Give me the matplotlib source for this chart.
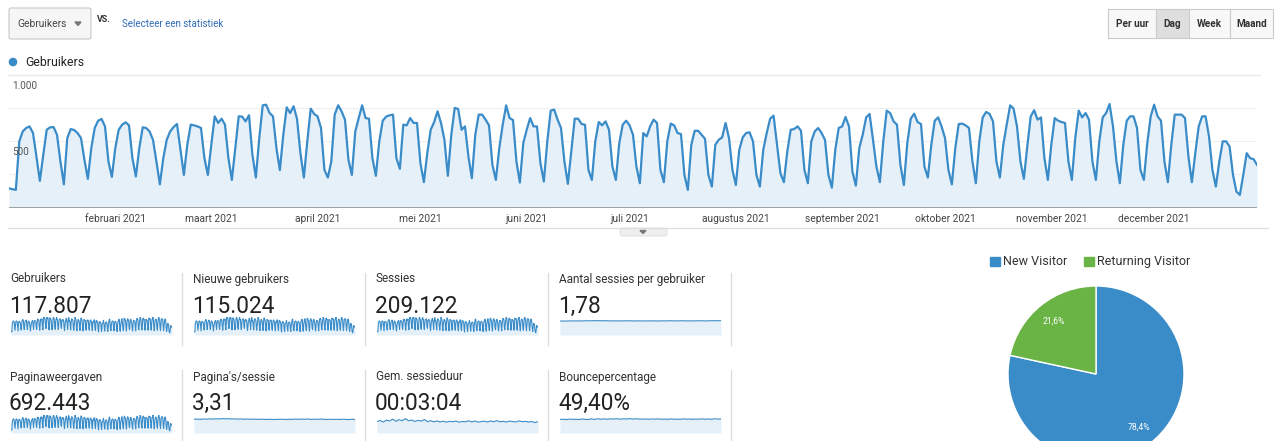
###########################################################################
### GA overzicht 2021 - gebruikers per dag + scorecards + bezoekers taart
###########################################################################

import numpy as np
import pandas as pd
import matplotlib as mpl
mpl.use('Agg')
from matplotlib import pyplot as plt
from matplotlib.patches import FancyBboxPatch, Rectangle, Circle, Polygon

plt.rcParams['font.family'] = ['Roboto', 'DejaVu Sans']

W, H = 1275, 441

### gebruikers per dag, vr 1 jan t/m vr 31 dec 2021 (rijen = weken ma..zo)
gebruikers_per_dag = [
    145, 138, 133,
    499, 574, 600, 612, 562, 385, 201,
    398, 587, 605, 607, 549, 347, 175,
    524, 592, 585, 562, 524, 360, 216,
    448, 600, 655, 668, 612, 347, 231,
    448, 587, 625, 643, 620, 372, 234,
    448, 605, 600, 574, 511, 347, 175,
    372, 511, 574, 607, 630, 436, 246,
    473, 625, 620, 612, 600, 372, 246,
    473, 688, 638, 670, 625, 372, 208,
    448, 688, 686, 650, 696, 398, 226,
    524, 771, 776, 713, 688, 448, 282,
    549, 756, 713, 764, 670, 410, 226,
    499, 746, 706, 688, 600, 284, 226,
    347, 701, 771, 726, 663, 360, 246,
    574, 675, 771, 675, 670, 372, 239,
    499, 655, 686, 696, 701, 372, 292,
    625, 620, 675, 638, 638, 335, 191,
    410, 587, 645, 726, 638, 511, 239,
    549, 751, 744, 587, 612, 385, 221,
    549, 701, 701, 663, 620, 322, 208,
    448, 625, 771, 675, 660, 347, 188,
    486, 587, 675, 612, 612, 335, 196,
    499, 731, 739, 663, 600, 347, 178,
    423, 670, 670, 630, 625, 284, 208,
    499, 645, 620, 650, 587, 309, 208,
    486, 625, 655, 620, 549, 309, 183,
    562, 537, 612, 663, 638, 284, 191,
    499, 633, 620, 562, 554, 246, 133,
    473, 579, 579, 549, 519, 246, 158,
    473, 511, 529, 638, 524, 284, 170,
    436, 529, 562, 567, 499, 246, 158,
    436, 562, 670, 693, 473, 259, 191,
    423, 587, 592, 612, 579, 284, 183,
    499, 574, 600, 562, 511, 246, 150,
    436, 600, 612, 683, 612, 271, 165,
    448, 549, 680, 706, 511, 309, 191,
    499, 731, 713, 650, 625, 322, 170,
    486, 670, 708, 645, 630, 309, 226,
    473, 655, 680, 612, 524, 284, 175,
    448, 630, 633, 620, 600, 347, 183,
    499, 680, 721, 706, 650, 347, 226,
    473, 625, 771, 746, 612, 347, 216,
    461, 688, 734, 663, 680, 372, 208,
    473, 675, 655, 645, 638, 347, 208,
    524, 731, 680, 713, 663, 347, 208,
    499, 680, 713, 781, 612, 347, 183,
    473, 655, 688, 688, 600, 284, 208,
    486, 688, 776, 688, 655, 347, 191,
    473, 701, 701, 701, 675, 385, 191,
    410, 612, 688, 688, 537, 284, 158,
    347, 499, 499, 461, 246, 120, 95,
    246, 410, 372, 365, 322,
]

maand_start = ['2021-02-01', '2021-03-01', '2021-04-01', '2021-05-01',
               '2021-06-01', '2021-07-01', '2021-08-01', '2021-09-01',
               '2021-10-01', '2021-11-01', '2021-12-01']
maand_labels = ['februari 2021', 'maart 2021', 'april 2021', 'mei 2021',
                'juni 2021', 'juli 2021', 'augustus 2021', 'september 2021',
                'oktober 2021', 'november 2021', 'december 2021']
y_ticks = [500, 1000]
y_ticklabels = ['500', '1.000']

### ratio-statistieken (ongeveer per week)
sessies_per_gebruiker = [1.74, 1.76, 1.75, 1.77, 1.76, 1.78, 1.77, 1.76, 1.79, 1.78,
                         1.80, 1.79, 1.81, 1.78, 1.80, 1.79, 1.77, 1.78, 1.76, 1.78,
                         1.77, 1.79, 1.78, 1.77, 1.76, 1.78, 1.77, 1.76, 1.77, 1.78,
                         1.77, 1.76, 1.78, 1.77, 1.78, 1.79, 1.78, 1.77, 1.78, 1.79,
                         1.77, 1.78, 1.77, 1.78, 1.79, 1.78, 1.77, 1.78, 1.79, 1.80,
                         1.78, 1.81]
paginas_per_sessie = [3.30, 3.36, 3.28, 3.38, 3.33, 3.41, 3.35, 3.44, 3.38, 3.47,
                      3.40, 3.45, 3.36, 3.42, 3.33, 3.39, 3.31, 3.37, 3.29, 3.35,
                      3.27, 3.33, 3.30, 3.26, 3.32, 3.24, 3.30, 3.27, 3.33, 3.25,
                      3.31, 3.28, 3.35, 3.29, 3.36, 3.30, 3.38, 3.27, 3.34, 3.29,
                      3.36, 3.31, 3.27, 3.33, 3.26, 3.31, 3.25, 3.32, 3.28, 3.22,
                      3.34, 3.24]
sessieduur_sec = [176, 192, 170, 198, 185, 214, 180, 205, 190, 222, 188, 200, 178,
                  196, 183, 208, 175, 190, 172, 186, 170, 182, 168, 180, 174, 185,
                  166, 178, 172, 188, 170, 184, 168, 176, 182, 170, 186, 174, 190,
                  172, 180, 168, 184, 176, 170, 186, 174, 180, 168, 178, 160, 176]
bouncepercentage = [48.6, 49.8, 48.2, 50.1, 48.9, 49.5, 48.4, 50.3, 49.1, 48.7,
                    50.6, 49.0, 51.2, 49.6, 50.8, 49.3, 51.0, 50.2, 51.5, 49.8,
                    50.9, 50.1, 51.8, 49.9, 51.1, 50.4, 49.6, 50.7, 49.2, 50.5,
                    49.8, 50.9, 49.4, 50.2, 49.0, 50.6, 49.5, 50.0, 49.1, 50.8,
                    49.7, 50.3, 49.2, 50.1, 49.6, 50.9, 49.4, 50.5, 49.0, 51.3,
                    49.8, 50.6]

kpi_titels = ['Gebruikers', 'Nieuwe gebruikers', 'Sessies',
              'Aantal sessies per gebruiker', 'Paginaweergaven',
              "Pagina's/sessie", 'Gem. sessieduur', 'Bouncepercentage']
kpi_waarden = ['117.807', '115.024', '209.122', '1,78',
               '692.443', '3,31', '00:03:04', '49,40%']
# tellers hebben op dit formaat dezelfde vorm als gebruikers per dag
kpi_reeksen = [gebruikers_per_dag, gebruikers_per_dag, gebruikers_per_dag,
               sessies_per_gebruiker, gebruikers_per_dag, paginas_per_sessie,
               sessieduur_sec, bouncepercentage]

bezoeker_labels = ['New Visitor', 'Returning Visitor']
bezoeker_aandeel = [78.4, 21.6]

knoppen = ['Per uur', 'Dag', 'Week', 'Maand']

### kleuren
BLAUW = '#3a8cc9'
VULLING = '#e6f0f8'
GROEN = '#6ab345'
GRIJS_TEKST = '#333333'


def px_axes(fig, x0, y0, x1, y1, **kw):
    # axes in pixel coords (top-left origin)
    return fig.add_axes([x0 / W, 1 - y1 / H, (x1 - x0) / W, (y1 - y0) / H], **kw)


fig = plt.figure(figsize=(W / 100, H / 100), dpi=100)
fig.patch.set_facecolor('white')

ov = fig.add_axes([0, 0, 1, 1], zorder=0)
ov.set_xlim(0, W)
ov.set_ylim(H, 0)
ov.axis('off')

########## kop: dropdown, vs., knoppen
ov.add_patch(FancyBboxPatch((9, 8), 82, 31, boxstyle='round,pad=0,rounding_size=2',
                            fc='#f6f6f6', ec='#c8c8c8', lw=0.8))
ov.text(17, 24, 'Gebruikers', fontsize=7.4, color='#444444', va='center')
ov.add_patch(Polygon([[75, 22], [81, 22], [78, 25.5]], closed=True, color='#777777'))
ov.text(97, 20, 'VS.', fontsize=6.4, fontweight='bold', color='#333333', va='center')
ov.text(122, 24, 'Selecteer een statistiek', fontsize=7, color='#2f6bb3', va='center')

grenzen = [1108, 1156, 1189, 1230, 1273]
for i, lab in enumerate(knoppen):
    fc = '#dedede' if lab == 'Dag' else '#f8f8f8'
    ov.add_patch(Rectangle((grenzen[i], 9), grenzen[i + 1] - grenzen[i], 29,
                           fc=fc, ec='#cccccc', lw=0.8))
    ov.text((grenzen[i] + grenzen[i + 1]) / 2, 24, lab, fontsize=7.2,
            fontweight='bold', color='#333333', ha='center', va='center')

########## legenda + lijnen
ov.add_patch(Circle((13, 62), 3.6, color=BLAUW))
ov.text(25, 62.5, 'Gebruikers', fontsize=8.8, color='#222222', va='center')
ov.plot([8, 1260], [75, 75], color='#e8e8e8', lw=0.9)
ov.plot([8, 1268], [228, 228], color='#dddddd', lw=0.9)
ov.add_patch(FancyBboxPatch((620, 228), 47, 8, boxstyle='round,pad=0,rounding_size=2',
                            fc='#eeeeee', ec='#dddddd', lw=0.6))
ov.add_patch(Polygon([[640, 230.5], [646, 230.5], [643, 233.5]], closed=True,
                     color='#777777'))

########## hoofdgrafiek
datums = pd.date_range('2021-01-01', periods=len(gebruikers_per_dag), freq='D')
ax = px_axes(fig, 9, 75, 1257, 207.5, zorder=2)
ax.set_facecolor('none')
ax.fill_between(datums, gebruikers_per_dag, 0, color=VULLING, lw=0)
ax.plot(datums, gebruikers_per_dag, color=BLAUW, lw=1.6, solid_joinstyle='round')
for g in [250, 500, 750]:
    ax.axhline(g, color='#eeeeee', lw=0.8, zorder=0)
ax.axhline(0, color='#a0a0a0', lw=1.4)
ax.set_ylim(0, 1000)
ax.set_xlim(datums[0], datums[-1])
ax.set_xticks(pd.to_datetime(maand_start))
ax.set_xticklabels(maand_labels, fontsize=7.4, color='#444444')
ax.tick_params(axis='x', length=0, pad=5)
ax.set_yticks([])
for s in ax.spines.values():
    s.set_visible(False)
for v, lab in zip(y_ticks, y_ticklabels):
    ax.annotate(lab, xy=(0, v), xycoords=('axes fraction', 'data'),
                xytext=(2, -8), textcoords='offset points', fontsize=7.2,
                color='#555555', va='center', ha='left', zorder=5)

########## scorecards
kol_x = [10, 193, 376, 559]
rij_y = [(279, 304, 317, 335), (377, 401, 415, 433)]
for k, (titel, waarde, reeks) in enumerate(zip(kpi_titels, kpi_waarden, kpi_reeksen)):
    r, c = divmod(k, 4)
    ty, ny, sy0, sy1 = rij_y[r]
    x0 = kol_x[c]
    ov.text(x0, ty, titel, fontsize=8.5, color=GRIJS_TEKST, va='center')
    ov.text(x0 - 1, ny, waarde, fontsize=16.3, color='#222222', va='center_baseline')
    sp = px_axes(fig, x0 + 1, sy0, x0 + 162, sy1, zorder=2)
    xs = np.arange(len(reeks))
    sp.fill_between(xs, reeks, 0, color=VULLING, lw=0)
    sp.plot(xs, reeks, color=BLAUW, lw=0.8)
    top = max(reeks) if reeks is gebruikers_per_dag else max(reeks) * 1.25
    sp.set_ylim(0, top)
    sp.set_xlim(0, len(reeks) - 1)
    sp.axis('off')

for x in [182, 365, 548, 731]:
    ov.plot([x, x], [273, 345], color='#dddddd', lw=1)
    ov.plot([x, x], [370, 441], color='#dddddd', lw=1)

########## bezoekers taart
kleuren = [BLAUW, GROEN]
ov.add_patch(Rectangle((990, 257), 10, 9, color=kleuren[0]))
ov.text(1003, 261.5, bezoeker_labels[0], fontsize=9, color=GRIJS_TEKST, va='center')
ov.add_patch(Rectangle((1084, 257), 10, 9, color=kleuren[1]))
ov.text(1097, 261.5, bezoeker_labels[1], fontsize=9, color=GRIJS_TEKST, va='center')

pie_ax = px_axes(fig, 1008, 286, 1184, 462, zorder=2)
wedges, txt, pct = pie_ax.pie(bezoeker_aandeel, colors=kleuren, startangle=90,
                              counterclock=False, pctdistance=0.77,
                              autopct=lambda p: f'{p:.1f}%'.replace('.', ','),
                              wedgeprops=dict(edgecolor='white', linewidth=1),
                              textprops=dict(color='white', fontsize=6.2))
pie_ax.set_xlim(-1, 1)
pie_ax.set_ylim(-1, 1)
pie_ax.set_aspect('equal')

fig.savefig('out.png', dpi=100, facecolor='white')
plt.close()
